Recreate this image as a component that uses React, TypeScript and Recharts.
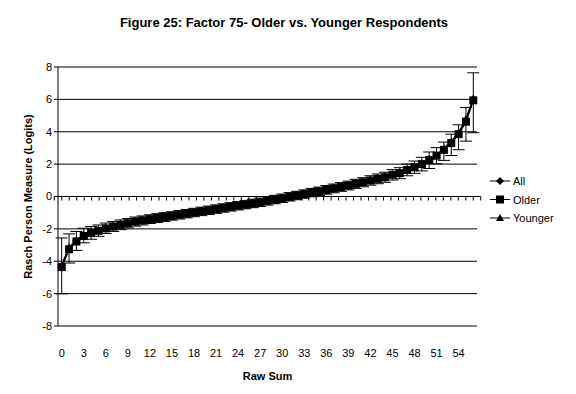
import React from "react";
import { LineChart, Line, XAxis, YAxis, CartesianGrid, ErrorBar, ReferenceLine, Legend } from "recharts";

const FONT = '"Liberation Sans", Arial, sans-serif';

// Raw sum categories
const rawSum = [
  0, 1, 2, 3, 4, 5, 6, 7, 8, 9, 10, 11, 12, 13, 14, 15, 16, 17, 18, 19,
  20, 21, 22, 23, 24, 25, 26, 27, 28, 29, 30, 31, 32, 33, 34, 35, 36, 37, 38, 39,
  40, 41, 42, 43, 44, 45, 46, 47, 48, 49, 50, 51, 52, 53, 54, 55, 56,
];

const allVals = [
  -4.30, -3.20, -2.74, -2.40, -2.23, -2.09, -1.94, -1.83, -1.72, -1.62,
  -1.53, -1.46, -1.38, -1.31, -1.25, -1.18, -1.11, -1.04, -0.97, -0.90,
  -0.83, -0.76, -0.69, -0.62, -0.55, -0.48, -0.41, -0.34, -0.25, -0.17,
  -0.09, 0.00, 0.08, 0.17, 0.26, 0.34, 0.43, 0.52, 0.61, 0.70,
  0.80, 0.90, 1.01, 1.11, 1.21, 1.36, 1.46, 1.66, 1.83, 2.03,
  2.28, 2.55, 2.92, 3.35, 3.90, 4.70, 6.00,
];

const olderVals = [
  -4.36, -3.26, -2.78, -2.44, -2.26, -2.12, -1.97, -1.86, -1.75, -1.65,
  -1.55, -1.48, -1.40, -1.33, -1.27, -1.20, -1.13, -1.06, -0.99, -0.92,
  -0.85, -0.78, -0.71, -0.64, -0.57, -0.50, -0.43, -0.36, -0.27, -0.19,
  -0.11, -0.02, 0.06, 0.15, 0.24, 0.32, 0.41, 0.50, 0.59, 0.68,
  0.78, 0.88, 0.99, 1.09, 1.19, 1.34, 1.44, 1.64, 1.81, 2.00,
  2.25, 2.52, 2.88, 3.30, 3.85, 4.62, 5.94,
];

const youngerVals = [
  -4.24, -3.14, -2.70, -2.36, -2.20, -2.06, -1.91, -1.80, -1.69, -1.59,
  -1.51, -1.44, -1.36, -1.29, -1.23, -1.16, -1.09, -1.02, -0.95, -0.88,
  -0.81, -0.74, -0.67, -0.60, -0.53, -0.46, -0.39, -0.32, -0.23, -0.15,
  -0.07, 0.02, 0.10, 0.19, 0.28, 0.36, 0.45, 0.54, 0.63, 0.72,
  0.82, 0.92, 1.03, 1.13, 1.23, 1.38, 1.48, 1.68, 1.85, 2.06,
  2.31, 2.58, 2.96, 3.40, 3.95, 4.78, 6.06,
];

// error bar extents below / above the point
const errLow = [
  1.65, 0.85, 0.55, 0.42, 0.38, 0.34, 0.32, 0.30, 0.30, 0.29,
  0.28, 0.28, 0.27, 0.27, 0.27, 0.26, 0.26, 0.26, 0.26, 0.26,
  0.26, 0.26, 0.26, 0.26, 0.26, 0.26, 0.26, 0.26, 0.26, 0.26,
  0.26, 0.26, 0.26, 0.26, 0.26, 0.26, 0.27, 0.27, 0.27, 0.27,
  0.28, 0.28, 0.29, 0.30, 0.31, 0.32, 0.34, 0.36, 0.38, 0.42,
  0.52, 0.50, 0.65, 0.77, 0.96, 1.20, 2.00,
];
const errHigh = [
  1.80, 0.95, 0.62, 0.48, 0.40, 0.36, 0.33, 0.31, 0.30, 0.29,
  0.28, 0.28, 0.27, 0.27, 0.27, 0.26, 0.26, 0.26, 0.26, 0.26,
  0.26, 0.26, 0.26, 0.26, 0.26, 0.26, 0.26, 0.26, 0.26, 0.26,
  0.26, 0.26, 0.26, 0.26, 0.26, 0.26, 0.27, 0.27, 0.27, 0.27,
  0.28, 0.28, 0.29, 0.30, 0.31, 0.32, 0.34, 0.36, 0.38, 0.42,
  0.50, 0.50, 0.48, 0.55, 0.58, 0.88, 1.70,
];

const yTicks = [-8, -6, -4, -2, 0, 2, 4, 6, 8];

const data = rawSum.map((s, i) => ({
  s,
  all: allVals[i],
  older: olderVals[i],
  younger: youngerVals[i],
  err: [errLow[i], errHigh[i]],
}));

const DiamondDot = (p: any) => {
  const { cx, cy } = p;
  if (cx == null || cy == null) return null;
  return <polygon key={p.key} points={`${cx},${cy - 4} ${cx + 4},${cy} ${cx},${cy + 4} ${cx - 4},${cy}`} fill="#000" />;
};
const SquareDot = (p: any) => {
  const { cx, cy } = p;
  if (cx == null || cy == null) return null;
  return <rect key={p.key} x={cx - 4} y={cy - 4} width={8} height={8} fill="#000" />;
};
const TriangleDot = (p: any) => {
  const { cx, cy } = p;
  if (cx == null || cy == null) return null;
  return <polygon key={p.key} points={`${cx},${cy - 4} ${cx + 4},${cy + 3} ${cx - 4},${cy + 3}`} fill="#000" />;
};

// horizontal axis crossing at 0, tick marks between categories
const ZeroAxis = (p: any) => {
  const { x1, y1, x2 } = p;
  const n = rawSum.length;
  const step = (x2 - x1) / (n - 1);
  const start = x1 - step / 2;
  return (
    <g>
      <line x1={start} y1={y1} x2={start + n * step} y2={y1} stroke="#000" strokeWidth={1} />
      {Array.from({ length: n + 1 }, (_, i) => (
        <line key={i} x1={start + i * step} x2={start + i * step} y1={y1} y2={y1 + 4} stroke="#000" />
      ))}
    </g>
  );
};

const legendItems = [
  { name: "All", Dot: DiamondDot },
  { name: "Older", Dot: SquareDot },
  { name: "Younger", Dot: TriangleDot },
];

const renderLegend = () => (
  <svg width={88} height={56}>
    {legendItems.map((it, i) => {
      const y = 10 + i * 18.5;
      return (
        <g key={it.name}>
          <line x1={2} x2={22} y1={y} y2={y} stroke="#000" />
          <it.Dot cx={12} cy={y} />
          <text x={25} y={y} dominantBaseline="central" fontSize={11} fontFamily={FONT} fill="#000">{it.name}</text>
        </g>
      );
    })}
  </svg>
);

export default function App() {
  return (
    <div style={{ position: "absolute", left: 0, top: 0, width: 576, height: 394, background: "#fff" }}>
      <div style={{ position: "absolute", left: 0, top: 15, width: 568, textAlign: "center", fontFamily: FONT, fontWeight: "bold", fontSize: 13 }}>
        Figure 25: Factor 75- Older vs. Younger Respondents
      </div>
      <LineChart width={576} height={394} data={data} margin={{ top: 67, right: 99, bottom: 0, left: 0 }}>
        <CartesianGrid vertical={false} stroke="#000" strokeOpacity={1} />
        <XAxis
          dataKey="s"
          interval={2}
          padding={{ left: 3.7, right: 3.7 }}
          axisLine={false}
          tickLine={false}
          tickSize={0}
          tickMargin={23}
          height={68}
          tick={{ fontSize: 11, fontFamily: FONT, fill: "#000" }}
          label={(props: any) => {
            const vb = props.viewBox;
            return (
              <text x={vb.x + vb.width / 2} y={vb.y + 50} textAnchor="middle" dominantBaseline="central" fontSize={11} fontWeight="bold" fontFamily={FONT} fill="#000">
                Raw Sum
              </text>
            );
          }}
        />
        <YAxis
          domain={[-8, 8]}
          ticks={yTicks}
          width={58}
          axisLine={{ stroke: "#000" }}
          tickLine={{ stroke: "#000" }}
          tickSize={4}
          tickMargin={2}
          tick={{ fontSize: 11, fontFamily: FONT, fill: "#000" }}
          label={(props: any) => {
            const vb = props.viewBox;
            const cx = vb.x + 28;
            const cy = vb.y + vb.height / 2;
            return (
              <text x={cx} y={cy} transform={`rotate(-90 ${cx} ${cy})`} textAnchor="middle" dominantBaseline="central" fontSize={11} fontWeight="bold" fontFamily={FONT} fill="#000">
                Rasch Person Measure (Logits)
              </text>
            );
          }}
        />
        <ReferenceLine y={0} shape={ZeroAxis} />
        <Legend
          layout="horizontal"
          verticalAlign="middle"
          align="center"
          content={renderLegend}
          wrapperStyle={{ position: "absolute", left: 488, top: 171, width: 88, height: 56 }}
        />
        <Line dataKey="all" type="linear" stroke="#000" strokeWidth={1.5} dot={DiamondDot} isAnimationActive={false} />
        <Line dataKey="younger" type="linear" stroke="#000" strokeWidth={1.5} dot={TriangleDot} isAnimationActive={false} />
        <Line dataKey="older" type="linear" stroke="#000" strokeWidth={1.5} dot={SquareDot} isAnimationActive={false}>
          <ErrorBar dataKey="err" width={6} stroke="#000" strokeWidth={1} direction="y" />
        </Line>
      </LineChart>
    </div>
  );
}
